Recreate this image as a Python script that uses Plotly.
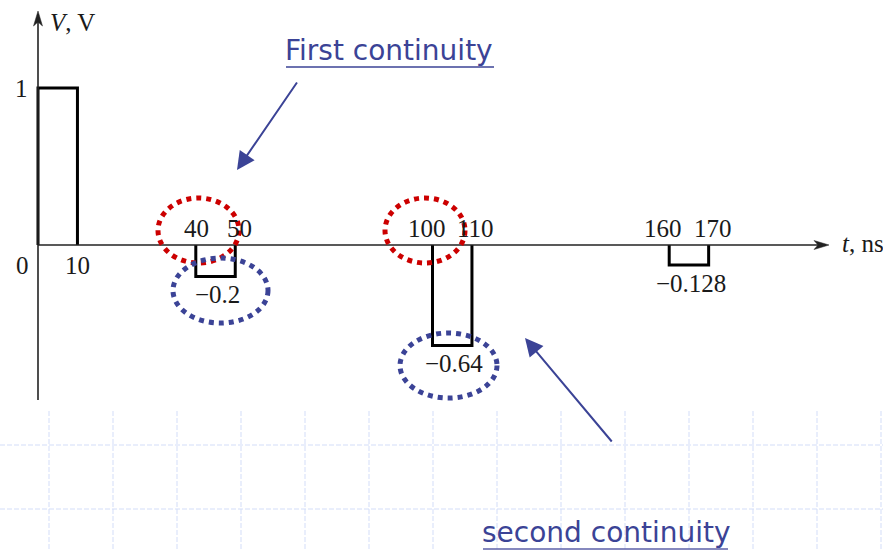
import plotly.graph_objects as go

# ---------------- data ----------------
pulse_start = [0, 40, 100, 160]        # ns
pulse_end = [10, 50, 110, 170]         # ns
pulse_amp = [1, -0.2, -0.64, -0.128]   # V

# ---------------- geometry helpers (pixel <-> data) ----------------
W, H = 883, 551
X0PX, XS = 38.0, 3.945     # t=0 at 38 px, px per ns
Y0PX, YS = 245.0, 157.0    # V=0 at 245 px, px per V


def px2x(px):
    return (px - X0PX) / XS


def px2y(py):
    return (Y0PX - py) / YS


def pxp(px):
    return px / W


def pyp(py):
    return 1 - py / H


BLUE = "#3B4396"
RED = "#CC0000"
INK = "#1a1a1a"
SERIF = "Liberation Serif"
SANS = "DejaVu Sans"

fig = go.Figure()

# pulses (three-sided rectangles)
xs, ys = [], []
for s, e, a in zip(pulse_start, pulse_end, pulse_amp):
    xs += [s, s, e, e, None]
    ys += [0, a, a, 0, None]
fig.add_trace(go.Scatter(x=xs, y=ys, mode="lines",
                         line=dict(color="black", width=3),
                         hoverinfo="skip", showlegend=False))

shapes = []

# background dashed grid (lower part of slide)
GRID = "#D3DDF8"
for k in range(14):
    gx = 49 + 64 * k
    shapes.append(dict(type="line", xref="paper", yref="paper",
                       x0=pxp(gx), x1=pxp(gx), y0=pyp(411), y1=pyp(551),
                       line=dict(color=GRID, width=1, dash="5px,2px"), layer="below"))
for gy in (445, 509):
    shapes.append(dict(type="line", xref="paper", yref="paper",
                       x0=0, x1=1, y0=pyp(gy), y1=pyp(gy),
                       line=dict(color=GRID, width=1, dash="5px,2px"), layer="below"))

# axes lines
AX = "#222222"
shapes.append(dict(type="line", x0=0, x1=0, y0=px2y(400), y1=px2y(20),
                   line=dict(color=AX, width=1.6)))
shapes.append(dict(type="line", x0=0, x1=px2x(818), y0=0, y1=0,
                   line=dict(color=AX, width=1.6)))
# axis arrowheads
shapes.append(dict(type="path", xsizemode="pixel", ysizemode="pixel",
                   xanchor=px2x(829), yanchor=0,
                   path="M0,0 L-15,4.5 L-11,0 L-15,-4.5 Z",
                   fillcolor=AX, line=dict(color=AX, width=0.5)))
shapes.append(dict(type="path", xsizemode="pixel", ysizemode="pixel",
                   xanchor=0, yanchor=px2y(11),
                   path="M0,0 L-4.5,-15 L0,-11 L4.5,-15 Z",
                   fillcolor=AX, line=dict(color=AX, width=0.5)))

# red dotted circles (first discontinuity)
for (l, r) in [(158, 239), (385, 465)]:
    shapes.append(dict(type="circle", x0=px2x(l), x1=px2x(r),
                       y0=px2y(263), y1=px2y(198),
                       line=dict(color=RED, width=5, dash="dot")))
# blue dotted ellipses (second discontinuity)
for (l, r, t, b) in [(173, 268, 258, 323), (400, 497, 333, 398)]:
    shapes.append(dict(type="circle", x0=px2x(l), x1=px2x(r),
                       y0=px2y(b), y1=px2y(t),
                       line=dict(color=BLUE, width=5, dash="dot")))

# underlines for slide text
shapes.append(dict(type="line", xref="paper", yref="paper",
                   x0=pxp(286), x1=pxp(494), y0=pyp(67), y1=pyp(67),
                   line=dict(color=BLUE, width=1.5)))
shapes.append(dict(type="line", xref="paper", yref="paper",
                   x0=pxp(483), x1=pxp(728), y0=pyp(549), y1=pyp(549),
                   line=dict(color="#5C61A8", width=1.5)))

annotations = []
lab_font = dict(family=SERIF, size=25, color=INK)


def lab(x, y, text, xshift=0, yshift=0, xanchor="center"):
    annotations.append(dict(x=x, y=y, text=text, showarrow=False,
                            xanchor=xanchor, yanchor="middle",
                            xshift=xshift, yshift=yshift, font=lab_font))


def fmt(v):
    s = f"{abs(v):g}"
    return ("\u2212" + s) if v < 0 else s


# time labels
lab(pulse_end[0], 0, fmt(pulse_end[0]), yshift=-20)
for s, e in zip(pulse_start[1:], pulse_end[1:]):
    lab(s, 0, fmt(s), yshift=17, xshift=(-6 if s >= 100 else 1))
    lab(e, 0, fmt(e), yshift=17, xshift=4)
# amplitude labels
lab(0, pulse_amp[0], fmt(pulse_amp[0]), xshift=-17)
lab(0, 0, "0", xshift=-16, yshift=-20)
for s, e, a in zip(pulse_start[1:], pulse_end[1:], pulse_amp[1:]):
    lab((s + e) / 2, a, fmt(a), xshift=2, yshift=-18)

# axis titles
lab(px2x(840), 0, "<i>t</i>, ns", xanchor="left", yshift=2)
lab(px2x(48), px2y(22), "<i>V</i>, V", xanchor="left")

# slide callouts
annotations.append(dict(xref="paper", yref="paper", x=pxp(283), y=pyp(50),
                        xanchor="left", yanchor="middle", showarrow=False,
                        text="First continuity",
                        font=dict(family=SANS, size=28, color=BLUE)))
annotations.append(dict(xref="paper", yref="paper", x=pxp(480), y=pyp(532),
                        xanchor="left", yanchor="middle", showarrow=False,
                        text="second continuity",
                        font=dict(family=SANS, size=28, color=BLUE)))

# blue pointer arrows
for (tip, tail) in [((237, 170), (298, 81)), ((525, 338), (613, 443))]:
    annotations.append(dict(x=px2x(tip[0]), y=px2y(tip[1]), text="",
                            showarrow=True, arrowhead=2, arrowsize=1.8,
                            arrowwidth=2, arrowcolor=BLUE,
                            ax=tail[0] - tip[0], ay=tail[1] - tip[1]))

fig.update_layout(
    width=W, height=H,
    margin=dict(l=0, r=0, t=0, b=0),
    paper_bgcolor="white", plot_bgcolor="white",
    xaxis=dict(range=[px2x(0), px2x(W)], visible=False, fixedrange=True),
    yaxis=dict(range=[px2y(H), px2y(0)], visible=False, fixedrange=True),
    shapes=shapes, annotations=annotations, showlegend=False,
    hovermode=False,
)

# remove the browser's default 8px body margin so the figure sits at (0,0)
fig.write_html("out.html",
               config={"displayModeBar": False, "staticPlot": True},
               post_script="document.body.style.margin='0';document.body.style.padding='0';")
